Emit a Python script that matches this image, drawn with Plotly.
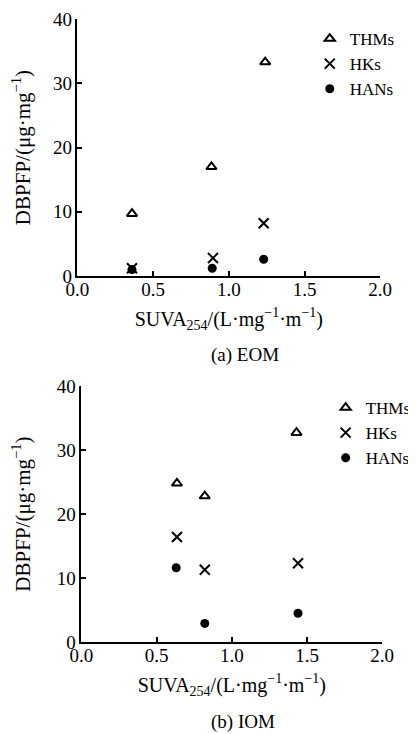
import plotly.graph_objects as go

# ---- data ----
series_names = ["THMs", "HKs", "HANs"]

eom_suva = {"THMs": [0.36, 0.885, 1.24], "HKs": [0.36, 0.895, 1.23], "HANs": [0.36, 0.89, 1.23]}
eom_dbpfp = {"THMs": [9.7, 17.0, 33.3], "HKs": [1.2, 2.8, 8.2], "HANs": [1.0, 1.2, 2.6]}

iom_suva = {"THMs": [0.635, 0.82, 1.43], "HKs": [0.635, 0.82, 1.44], "HANs": [0.63, 0.82, 1.44]}
iom_dbpfp = {"THMs": [24.8, 22.8, 32.7], "HKs": [16.4, 11.3, 12.3], "HANs": [11.6, 2.9, 4.5]}

x_ticks = [0.0, 0.5, 1.0, 1.5, 2.0]
x_tick_labels = ["0.0", "0.5", "1.0", "1.5", "2.0"]
y_ticks = [0, 10, 20, 30, 40]
captions = ["(a) EOM", "(b) IOM"]

FONT = "Liberation Serif"
FS = 19
OFF = 8  # page body margin
W, H = 416 - OFF, 734 - OFF

markers = {
    "THMs": dict(symbol="triangle-up-open", size=9, color="black", line=dict(width=2, color="black")),
    "HKs": dict(symbol="x-thin-open", size=10, color="black", line=dict(width=2, color="black")),
    "HANs": dict(symbol="circle", size=9, color="black", line=dict(width=0)),
}

fig = go.Figure()

panels = [
    (eom_suva, eom_dbpfp, "x", "y", "legend"),
    (iom_suva, iom_dbpfp, "x2", "y2", "legend2"),
]
for xs, ys, xa, ya, lg in panels:
    for name in series_names:
        fig.add_trace(go.Scatter(
            x=xs[name], y=ys[name], mode="markers", name=name,
            marker=markers[name], xaxis=xa, yaxis=ya, legend=lg,
        ))

def px_x(p):
    return (p - OFF) / W

def px_y(p):
    return 1 - (p - OFF) / H

axis_common = dict(
    showline=True, linecolor="black", linewidth=1.6, showgrid=False, zeroline=False,
    ticks="inside", ticklen=5, tickwidth=1.5, tickcolor="black", automargin=False,
    tickfont=dict(family=FONT, size=FS, color="black"), mirror=False,
)

xtitle = "SUVA<sub>254</sub>/(L·mg<sup>−1</sup>·m<sup>−1</sup>)"
ytitle = "DBPFP/(μg·mg<sup>−1</sup>)"
XT_FS = 20
YT_FS = 21
LG_FS = 17

fig.update_layout(
    width=W, height=H,
    margin=dict(l=0, r=0, t=0, b=0),
    paper_bgcolor="white", plot_bgcolor="white",
    font=dict(family=FONT, size=FS, color="black"),
    showlegend=True,
    xaxis=dict(domain=[px_x(78), px_x(383)], range=[0, 2], tickvals=x_ticks, ticktext=x_tick_labels,
               anchor="y", ticklabelstandoff=-5,
               title=dict(text=xtitle, font=dict(family=FONT, size=XT_FS), standoff=13), **axis_common),
    yaxis=dict(domain=[px_y(276), px_y(19)], range=[0, 40], tickvals=y_ticks, anchor="x",
               title=dict(text=ytitle, font=dict(family=FONT, size=YT_FS), standoff=21), **axis_common),
    xaxis2=dict(domain=[px_x(82), px_x(385)], range=[0, 2], tickvals=x_ticks, ticktext=x_tick_labels,
                anchor="y2", ticklabelstandoff=-5,
                title=dict(text=xtitle, font=dict(family=FONT, size=XT_FS), standoff=13), **axis_common),
    yaxis2=dict(domain=[px_y(642), px_y(386)], range=[0, 40], tickvals=y_ticks, anchor="x2",
                title=dict(text=ytitle, font=dict(family=FONT, size=YT_FS), standoff=21), **axis_common),
    legend=dict(x=px_x(312), y=px_y(21), xanchor="left", yanchor="top", itemwidth=30,
                bgcolor="rgba(0,0,0,0)", font=dict(family=FONT, size=LG_FS), tracegroupgap=0),
    legend2=dict(x=px_x(328), y=px_y(390), xanchor="left", yanchor="top", itemwidth=30,
                 bgcolor="rgba(0,0,0,0)", font=dict(family=FONT, size=LG_FS), tracegroupgap=0),
    annotations=[
        dict(text=captions[0], x=px_x(247), y=px_y(355), xref="paper", yref="paper",
             showarrow=False, xanchor="center", yanchor="middle", font=dict(family=FONT, size=FS)),
        dict(text=captions[1], x=px_x(245), y=px_y(722), xref="paper", yref="paper",
             showarrow=False, xanchor="center", yanchor="middle", font=dict(family=FONT, size=FS)),
    ],
)

fig.write_html("out.html")
